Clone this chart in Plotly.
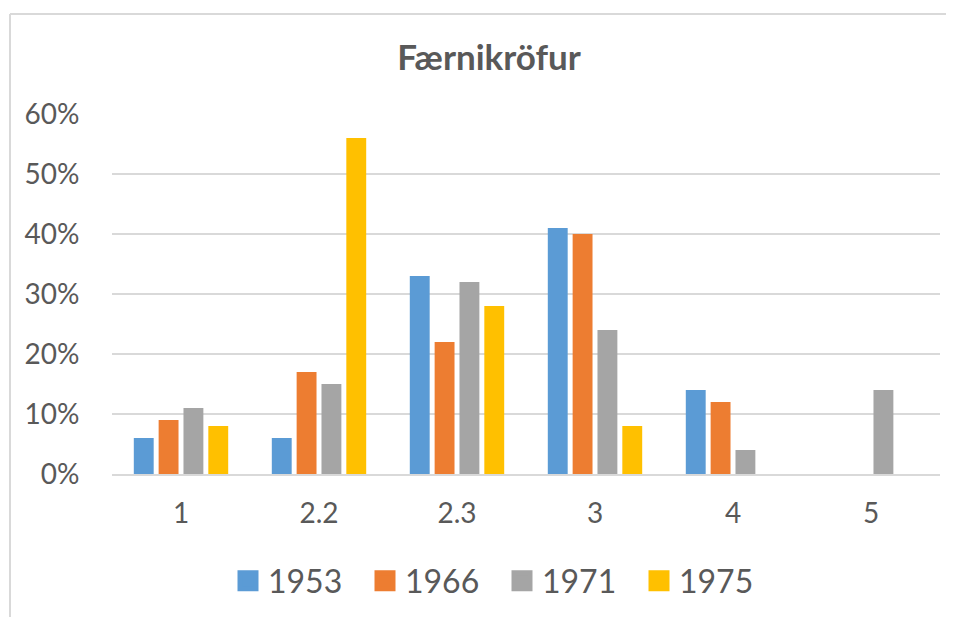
import plotly.graph_objects as go

categories = ["1", "2.2", "2.3", "3", "4", "5"]
series_names = ["1953", "1966", "1971", "1975"]
v1953 = [6, 6, 33, 41, 14, 0]
v1966 = [9, 17, 22, 40, 12, 0]
v1971 = [11, 15, 32, 24, 4, 14]
v1975 = [8, 56, 28, 8, 0, 0]
colors = ["#5B9BD5", "#ED7D31", "#A5A5A5", "#FFC000"]
y_ticks = [0, 10, 20, 30, 40, 50, 60]
y_tick_text = [f"{v}%" for v in y_ticks]

fig = go.Figure()
for name, vals, col in zip(series_names, [v1953, v1966, v1971, v1975], colors):
    fig.add_trace(go.Bar(x=categories, y=vals, name=name, marker_color=col,
                         marker_line_width=0, showlegend=False))
for name, col in zip(series_names, colors):
    fig.add_trace(go.Scatter(x=[None], y=[None], mode="markers", name=name,
                             marker=dict(symbol="square", size=16, color=col,
                                         line=dict(color=col, width=5))))

# page body has an 8px margin; work in figure coordinates (reference - 8)
OFF = 8
W, H = 954 - OFF, 617 - OFF
L = 112 - OFF
T = 114 - OFF
PB = 474 - OFF  # plot bottom
PR = 940 - OFF  # plot right
R = W - PR
B = H - PB
pw, ph = PR - L, PB - T

bx = (10 - OFF - L) / pw          # left border x (paper)
by = (PB - (14 - OFF)) / ph       # top border y (paper)
bx_far = (W + 30 - L) / pw
by_far = (PB - (H + 30)) / ph

fig.update_layout(
    width=W, height=H,
    margin=dict(l=L, r=R, t=T, b=B, autoexpand=False),
    paper_bgcolor="white", plot_bgcolor="white",
    barmode="group", bargap=0.28, bargroupgap=0.2,
    title=dict(text="<b>Færnikröfur</b>", x=(489 - OFF - L) / pw, xref="paper", xanchor="center",
               y=1 - (58 - OFF) / H, yanchor="middle",
               font=dict(family="Lato", size=35, color="#595959")),
    font=dict(family="Lato", color="#595959"),
    legend=dict(orientation="h", x=(228 - OFF - L) / pw, xanchor="left",
                y=(PB - (581 - OFF)) / ph, yanchor="middle",
                font=dict(family="Lato", size=32, color="#595959"),
                entrywidth=92, entrywidthmode="pixels",
                bgcolor="rgba(0,0,0,0)", borderwidth=0),
    xaxis=dict(type="category", showgrid=False, showline=True, linecolor="#D9D9D9",
               linewidth=2, ticks="outside", ticklen=13, tickcolor="rgba(0,0,0,0)",
               tickfont=dict(family="Lato", size=28, color="#595959")),
    yaxis=dict(range=[0, 60], tickmode="array", tickvals=y_ticks, ticktext=y_tick_text,
               showgrid=True, gridcolor="#D9D9D9", gridwidth=2, zeroline=False,
               showline=False, ticks="outside", ticklen=26, tickcolor="rgba(0,0,0,0)",
               tickfont=dict(family="Lato", size=28, color="#595959")),
    shapes=[
        dict(type="line", xref="paper", yref="paper", x0=bx, x1=bx, y0=by, y1=by_far,
             line=dict(color="#D9D9D9", width=2), layer="below"),
        dict(type="line", xref="paper", yref="paper", x0=bx, x1=bx_far, y0=by, y1=by,
             line=dict(color="#D9D9D9", width=2), layer="below"),
    ],
)

fig.write_html("out.html")
